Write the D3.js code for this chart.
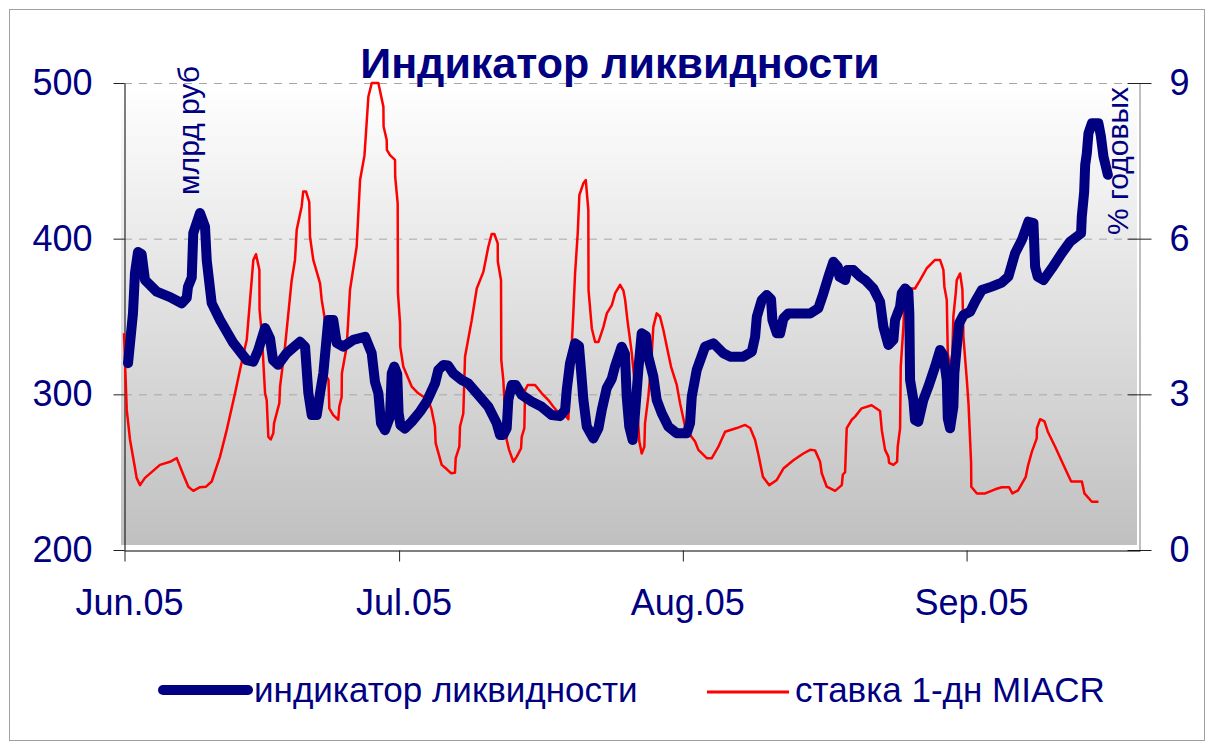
<!DOCTYPE html>
<html>
<head>
<meta charset="utf-8">
<script src="https://cdn.jsdelivr.net/npm/d3@7"></script>
<style>
  body { margin: 0; background: #fff; }
  svg text { font-family: "Liberation Sans", Arial, sans-serif; }
</style>
</head>
<body>
<script>
// days counted from 1 Jun 2005
var blueDays = [0.44,0.98,1.20,1.53,1.93,2.29,3.57,5.03,6.30,6.85,
  6.99,7.40,7.57,8.30,8.85,9.04,9.58,10.49,11.94,13.41,
  14.13,14.67,15.41,15.95,16.28,16.83,17.78,19.23,19.78,20.14,
  20.51,21.06,21.42,21.78,22.32,22.86,23.24,23.96,25.05,26.33,
  27.06,27.42,27.79,28.08,28.52,29.06,29.25,29.53,29.85,30.0,
  30.2,30.69,31.43,32.34,33.07,33.98,34.34,34.89,35.40,35.98,
  36.90,37.62,38.71,39.81,40.72,41.08,41.44,41.81,41.99,42.36,
  42.80,43.45,44.55,45.64,46.73,47.64,48.19,48.37,48.73,49.28,
  49.71,49.93,50.19,50.56,51.28,51.83,52.20,52.74,53.29,53.65,
  54.37,54.73,54.92,55.20,55.57,55.83,56.19,56.56,57.03,57.28,
  57.83,58.20,58.75,59.47,60.39,61.48,61.84,62.03,62.57,63.48,
  64.39,65.48,66.22,67.67,68.59,68.95,69.14,69.68,70.22,70.69,
  70.84,71.32,71.68,72.04,72.59,74.96,75.86,76.41,76.96,77.50,
  77.98,78.16,78.78,79.03,79.69,80.42,80.97,81.87,82.60,82.96,
  83.51,84.06,84.24,84.79,84.97,85.33,85.69,85.80,85.88,86.24,
  86.42,86.78,87.33,87.88,88.61,89.16,89.52,89.89,90.00,90.25,
  90.61,90.72,90.98,91.24,91.71,92.44,92.98,93.72,94.81,95.90,
  96.62,96.99,97.35,98.09,98.81,99.36,99.54,99.83,100.45,101.36,
  102.45,103.36,104.09,104.56,104.64,104.90,105.01,105.19,105.37,105.74,
  106.46,106.72,107.01,107.49];
var liquidity = [320,352,378,391.5,390,373.5,366,362.5,358.5,362,
  369,375,403.6,416.5,407.7,386,358.6,347.8,333,322,
  321,328.5,342.6,336,322,319,326.5,333.8,330.6,300.8,
  286.7,286.7,300.8,313.7,347.8,347.8,333,330.6,335,337,
  326.4,308,300.7,281.4,277,285.6,313.5,317.8,313,288,
  280.3,278,282.4,288.9,295.3,307,315.6,318.9,318.5,313.5,
  309.2,307,299.6,292,281.4,273.9,273.9,278.2,296.4,306,
  306,299.6,295.3,292,286.7,286,289.9,302.8,320,332.8,
  331,315.6,296.4,279.3,271.7,278.2,290,304,310,318,
  330.6,326,298.5,279.3,270.7,287.8,315.6,339.2,337.5,324.2,
  311.4,296.4,287.8,279.3,275,275,281.4,298.5,315.6,330.6,
  332.8,326.4,324.2,324.2,327.4,337,349.9,360.6,363.8,361,
  347.8,339.2,339.2,348.8,352,352,355.3,364.9,375.6,385.2,
  382,375.6,373.4,379.8,379.8,375.6,373.4,368,359.5,343.5,
  331.7,335,347.8,356.3,364.9,368,366,352,309.2,296.4,
  283.5,282.4,296.4,305,317.8,328.5,325,309.2,284.6,278.2,
  292,313.5,330.6,345.6,350.9,353,359.5,367,369.2,371.8,
  375.6,383.1,390.6,399.1,410.9,410,382,375.6,373.4,380.9,
  390.6,398,401.3,403.4,414.1,430,447.3,454.8,467.7,474.1,
  474.1,466,452.7,441];

var redDays = [0,0.30,0.66,1.20,1.38,1.75,2.29,3.93,5.03,5.76,
  6.48,7.03,7.57,8.30,8.96,9.58,10.49,11.22,12.13,12.67,
  13.41,13.95,14.13,14.42,14.79,14.81,15.05,15.41,15.59,15.77,
  16.03,16.31,16.39,16.97,17.05,17.59,18.32,18.68,18.87,19.41,
  19.58,19.88,20.24,20.32,20.68,21.42,21.60,21.96,22.14,22.34,
  22.43,22.86,23.41,23.52,23.78,23.80,24.33,24.69,25.42,25.79,
  26.27,26.70,27.07,27.79,28.34,28.36,28.70,28.72,29.06,29.61,
  29.63,29.90,29.93,30.16,30.18,30.52,31.43,32.15,33.25,33.61,
  33.97,34.05,34.71,35.25,35.72,36.16,36.24,36.64,36.71,37.07,
  37.26,37.99,38.54,39.26,39.81,40.17,40.46,40.83,40.84,41.19,
  41.22,41.44,41.63,41.81,42.07,42.54,42.91,43.38,43.45,43.74,
  43.82,44.11,44.91,45.64,46.36,46.91,47.46,48.0,48.55,48.62,
  49.09,49.28,49.57,49.75,50.19,50.45,50.73,50.75,51.11,51.47,
  51.84,52.38,52.75,53.30,53.66,54.20,54.56,54.75,55.0,55.48,
  55.83,56.02,56.30,56.56,56.85,56.92,57.28,57.55,57.83,58.20,
  58.56,58.93,59.30,59.77,60.39,60.75,61.30,61.84,62.39,62.75,
  63.67,64.22,64.94,65.67,66.95,67.86,68.41,68.95,69.32,69.80,
  70.50,71.32,72.04,73.13,74.22,74.96,75.50,76.05,76.23,76.78,
  77.69,78.42,78.53,78.78,78.96,79.51,79.87,80.59,81.68,82.60,
  82.79,83.15,83.51,83.59,84.06,84.46,84.53,84.79,84.86,85.15,
  85.33,86.42,86.97,87.70,88.61,89.16,89.52,89.63,89.89,90.00,
  90.25,90.50,90.61,90.87,90.98,91.35,91.60,91.71,92.08,
  92.26,92.55,92.57,93.18,94.09,95.17,95.90,96.70,97.06,97.68,
  98.52,98.74,99.18,99.72,99.74,100.09,100.56,100.93,101.73,102.64,
  103.48,104.65,104.93,105.74,106.46];
var miacr = [4.18,2.7,2.12,1.58,1.39,1.25,1.39,1.64,1.70,1.77,
  1.45,1.22,1.14,1.21,1.22,1.32,1.80,2.31,3.02,3.47,
  4.05,5.2,5.59,5.70,5.40,4.63,4.18,3.02,2.89,2.18,
  2.13,2.25,2.44,2.83,3.15,3.92,5.2,5.59,6.17,6.62,
  6.91,6.91,6.71,6.04,5.59,5.14,4.82,4.43,3.34,3.28,
  2.73,2.60,2.51,2.76,2.95,3.40,3.92,5.01,5.85,7.13,
  7.6,8.74,9.0,9.0,8.54,8.16,7.90,7.71,7.61,7.52,
  7.19,6.68,4.95,4.37,3.92,3.53,3.15,3.02,2.89,2.70,
  2.38,2.06,1.64,1.56,1.48,1.49,1.77,1.99,2.38,2.63,
  3.73,4.43,5.04,5.36,5.85,6.09,6.09,5.91,5.56,5.2,
  3.66,3.28,2.63,2.12,1.93,1.70,1.80,1.96,2.18,2.35,
  3.08,3.18,3.18,3.02,2.89,2.76,2.65,2.64,2.52,2.89,
  4.56,5.33,6.10,6.84,7.07,7.13,6.55,5.01,4.27,4.01,
  4.01,4.30,4.56,4.72,4.95,5.11,5.0,4.82,4.43,3.79,
  3.15,2.89,2.09,1.86,1.99,2.44,2.95,3.47,4.30,4.56,
  4.5,4.24,3.92,3.53,3.18,2.83,2.38,2.22,2.09,1.93,
  1.77,1.77,1.99,2.28,2.35,2.41,2.35,2.12,1.83,1.41,
  1.25,1.35,1.57,1.73,1.86,1.93,1.92,1.70,1.48,1.22,
  1.14,1.25,1.45,1.5,2.35,2.51,2.57,2.73,2.79,2.68,
  2.31,1.93,1.8,1.68,1.64,1.7,1.99,2.35,3.53,4.30,
  5.04,5.04,5.2,5.43,5.59,5.59,5.40,5.07,4.82,3.79,
  3.50,3.79,4.50,4.95,5.2,5.33,5.01,4.1,3.28,
  2.83,1.67,1.22,1.09,1.09,1.17,1.21,1.21,1.09,1.15,
  1.41,1.61,1.89,2.15,2.35,2.52,2.48,2.28,1.99,1.64,
  1.32,1.32,1.09,0.93,0.93];

var leftTicks = [200, 300, 400, 500];
var rightTicks = [0, 3, 6, 9];
var monthTicks = [new Date(Date.UTC(2005,5,1)), new Date(Date.UTC(2005,6,1)),
                  new Date(Date.UTC(2005,7,1)), new Date(Date.UTC(2005,8,1))];
var seriesNames = ["индикатор ликвидности", "ставка 1-дн MIACR"];

var navy = "#000080";
var base = Date.UTC(2005,5,1);
function toDate(d) { return new Date(base + d * 864e5); }

var w = 1208, h = 746;
var svg = d3.select("body").append("svg")
    .attr("width", w)
    .attr("height", h);

// outer frame
svg.append("rect")
    .attr("x", 9.5).attr("y", 9.5)
    .attr("width", 1195).attr("height", 731)
    .attr("fill", "#fff")
    .attr("stroke", "#a0a0a0");

// scales
var x = d3.scaleUtc()
    .domain([new Date(base), new Date(Date.UTC(2005,8,20))])
    .range([124, 1140]);
var yL = d3.scaleLinear().domain([200, 500]).range([550, 83]);
var yR = d3.scaleLinear().domain([0, 9]).range([550, 83]);

// plot area gradient
var grad = svg.append("defs").append("linearGradient")
    .attr("id", "bg").attr("x1", 0).attr("y1", 0).attr("x2", 0).attr("y2", 1);
grad.append("stop").attr("offset", "0%").attr("stop-color", "#ffffff");
grad.append("stop").attr("offset", "100%").attr("stop-color", "#c0c0c0");

svg.append("rect")
    .attr("x", 121).attr("y", 83)
    .attr("width", 1016).attr("height", 462)
    .attr("fill", "url(#bg)");

// dashed gridlines
svg.append("g")
    .selectAll("line")
    .data(leftTicks.filter(function(d) { return d > 200; }))
    .enter().append("line")
    .attr("x1", 124).attr("x2", 1139)
    .attr("y1", function(d) { return yL(d) + 0.5; })
    .attr("y2", function(d) { return yL(d) + 0.5; })
    .attr("stroke", "#a6a6a6")
    .attr("stroke-width", 1)
    .attr("stroke-dasharray", "8,7");

// axes
var leftAxis = svg.append("g")
    .attr("transform", "translate(124.5,0)")
    .call(d3.axisLeft(yL).tickValues(leftTicks).tickSize(11).tickPadding(21).tickSizeOuter(0));
var rightAxis = svg.append("g")
    .attr("transform", "translate(1139.5,0)")
    .call(d3.axisRight(yR).tickValues(rightTicks).tickSize(12).tickPadding(18).tickSizeOuter(0));
rightAxis.selectAll(".tick line").attr("x1", -12);
rightAxis.select(".domain").attr("stroke", "#808080");

var bottomAxis = svg.append("g")
    .attr("transform", "translate(0,550.5)")
    .call(d3.axisBottom(x).tickValues(monthTicks).tickSize(11).tickPadding(28)
      .tickSizeOuter(0).tickFormat(d3.utcFormat("%b.%y")));
bottomAxis.selectAll(".tick line").attr("transform", "translate(0.5,0)");
bottomAxis.selectAll(".tick text").attr("dx", 5);

[leftAxis, rightAxis, bottomAxis].forEach(function(a) {
  a.selectAll("text")
    .attr("fill", navy)
    .style("font-size", "36px")
    .style("font-family", "'Liberation Sans', Arial, sans-serif");
  a.selectAll(".tick line").attr("stroke", "#222");
});
bottomAxis.select(".domain").attr("stroke", "#000");
leftAxis.select(".domain").attr("stroke", "#000");

// lines
var blueLine = d3.line()
    .x(function(d, i) { return x(toDate(blueDays[i])); })
    .y(function(d) { return yL(d); });
var redLine = d3.line()
    .x(function(d, i) { return x(toDate(redDays[i])); })
    .y(function(d) { return yR(d); });

svg.append("path")
    .datum(miacr)
    .attr("d", redLine)
    .attr("fill", "none")
    .attr("stroke", "#ff0000")
    .attr("stroke-width", 2.5)
    .attr("stroke-linejoin", "round");

svg.append("path")
    .datum(liquidity)
    .attr("d", blueLine)
    .attr("fill", "none")
    .attr("stroke", navy)
    .attr("stroke-width", 10)
    .attr("stroke-linejoin", "round")
    .attr("stroke-linecap", "round");

// title
svg.append("text")
    .attr("x", 620).attr("y", 78)
    .attr("text-anchor", "middle")
    .attr("fill", navy)
    .style("font-size", "43px")
    .style("font-weight", "bold")
    .text("Индикатор ликвидности");

// axis titles
svg.append("text")
    .attr("transform", "translate(199,195) rotate(-90)")
    .attr("fill", navy)
    .style("font-size", "30px")
    .text("млрд руб");
svg.append("text")
    .attr("transform", "translate(1128,235) rotate(-90)")
    .attr("fill", navy)
    .style("font-size", "30px")
    .text("% годовых");

// legend
var legend = svg.append("g");
legend.append("line")
    .attr("x1", 163).attr("x2", 248).attr("y1", 690).attr("y2", 690)
    .attr("stroke", navy).attr("stroke-width", 10).attr("stroke-linecap", "round");
legend.append("text")
    .attr("x", 254).attr("y", 702)
    .attr("fill", navy).style("font-size", "35px")
    .text(seriesNames[0]);
legend.append("line")
    .attr("x1", 707).attr("x2", 789).attr("y1", 692).attr("y2", 692)
    .attr("stroke", "#ff0000").attr("stroke-width", 3);
legend.append("text")
    .attr("x", 795).attr("y", 702)
    .attr("fill", navy).style("font-size", "35px")
    .text(seriesNames[1]);
</script>
</body>
</html>
